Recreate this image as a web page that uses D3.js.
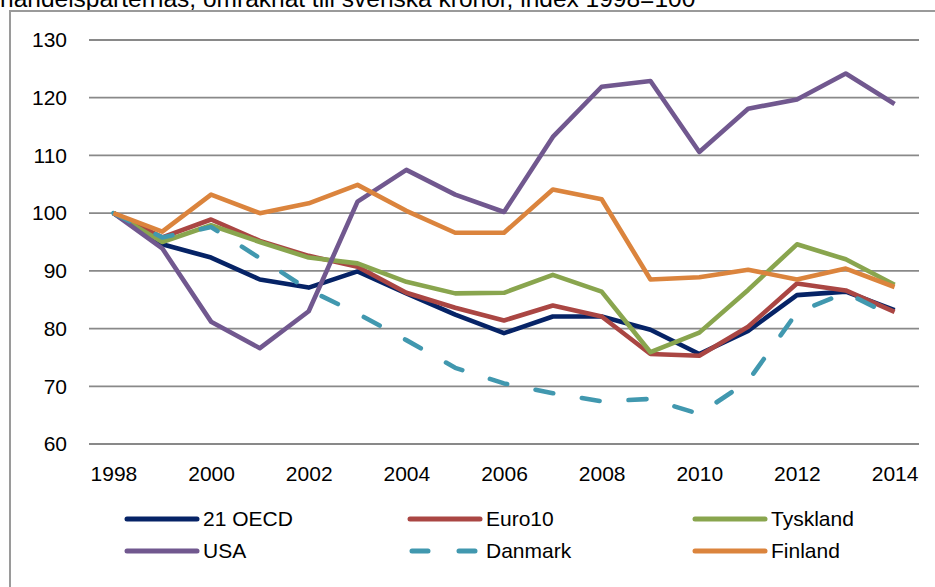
<!DOCTYPE html>
<html>
<head>
<meta charset="utf-8">
<script src="https://cdn.jsdelivr.net/npm/d3@7"></script>
<style>
  html, body { margin: 0; padding: 0; background: #fff; overflow: hidden; }
  svg { display: block; font-family: 'Liberation Sans', Arial, sans-serif; }
</style>
</head>
<body>
<div id="chart"></div>
<script>
// Index 1998=100
const years = d3.range(1998, 2015);
const yTicks = [60, 70, 80, 90, 100, 110, 120, 130];
const xTickYears = [1998, 2000, 2002, 2004, 2006, 2008, 2010, 2012, 2014];

const oecd21   = [100, 94.6, 92.3, 88.5, 87.1, 89.9, 86.1, 82.4, 79.2, 82.1, 82.1, 79.8, 75.6, 79.6, 85.8, 86.4, 83.2];
const euro10   = [100, 95.8, 98.9, 95.2, 92.6, 90.7, 86.2, 83.6, 81.4, 84.0, 82.1, 75.6, 75.3, 80.3, 87.8, 86.6, 82.9];
const tyskland = [100, 95.0, 97.9, 95.0, 92.3, 91.3, 88.1, 86.1, 86.2, 89.3, 86.4, 75.9, 79.3, 86.7, 94.6, 92.0, 87.6];
const usa      = [100, 93.9, 81.2, 76.6, 83.0, 102.0, 107.5, 103.2, 100.2, 113.2, 121.9, 122.9, 110.6, 118.1, 119.7, 124.2, 118.9];
const danmark  = [100, 95.8, 97.6, 92.2, 86.7, 82.6, 78.0, 73.2, 70.5, 68.8, 67.4, 67.8, 65.2, 70.9, 82.8, 86.2, 82.0];
const finland  = [100, 96.8, 103.2, 100.0, 101.7, 104.9, 100.4, 96.6, 96.6, 104.1, 102.4, 88.5, 88.9, 90.2, 88.5, 90.4, 87.2];

const series = [
  { name: '21 OECD',  values: oecd21,   color: '#062366' },
  { name: 'Euro10',   values: euro10,   color: '#AA4643' },
  { name: 'Tyskland', values: tyskland, color: '#89A54E' },
  { name: 'USA',      values: usa,      color: '#71588F' },
  { name: 'Danmark',  values: danmark,  color: '#4198AF', dash: '18,29' },
  { name: 'Finland',  values: finland,  color: '#DB843D' },
];

const W = 935, H = 587;
const svg = d3.select('#chart').append('svg')
  .attr('width', W).attr('height', H);

// partial title (cut off at the top in the original)
svg.append('text')
  .attr('x', 0).attr('y', 7)
  .attr('font-size', 24.5).attr('fill', '#000')
  .text('handelsparternas, omräknat till svenska kronor, index 1998=100');

// chart frame
svg.append('rect')
  .attr('x', 10).attr('y', 11)
  .attr('width', 1000).attr('height', 1000)
  .attr('fill', 'none').attr('stroke', '#9a9a9a').attr('stroke-width', 2);

const x = d3.scalePoint().domain(years).range([89, 919]).padding(0.5);
const y = d3.scaleLinear().domain([60, 130]).range([444, 40]);

// gridlines
svg.append('g').selectAll('line')
  .data(yTicks)
  .join('line')
  .attr('x1', 89).attr('x2', 919)
  .attr('y1', d => y(d)).attr('y2', d => y(d))
  .attr('stroke', '#898989').attr('stroke-width', 1.8);

// y axis labels
const yAxis = svg.append('g')
  .attr('transform', 'translate(67,0)')
  .call(d3.axisLeft(y).tickValues(yTicks).tickSize(0).tickPadding(0));
yAxis.select('.domain').remove();
yAxis.selectAll('text')
  .attr('font-size', 21).attr('fill', '#000')
  .attr('font-family', "'Liberation Sans', Arial, sans-serif");

// x axis labels
const xAxis = svg.append('g')
  .attr('transform', 'translate(0,444)')
  .call(d3.axisBottom(x).tickValues(xTickYears).tickSize(0).tickPadding(0));
xAxis.select('.domain').remove();
xAxis.selectAll('text')
  .attr('dy', null).attr('y', 37)
  .attr('font-size', 21).attr('fill', '#000')
  .attr('font-family', "'Liberation Sans', Arial, sans-serif");

// lines
const line = d3.line()
  .x((d, i) => x(years[i]))
  .y(d => y(d));

svg.append('g').selectAll('path')
  .data(series)
  .join('path')
  .attr('d', d => line(d.values))
  .attr('fill', 'none')
  .attr('stroke', d => d.color)
  .attr('stroke-width', 4.6)
  .attr('stroke-linejoin', 'round')
  .attr('stroke-linecap', d => d.dash ? 'round' : 'butt')
  .attr('stroke-dasharray', d => d.dash || null);

// legend, 3 columns x 2 rows
const legendCols = [127, 410, 695];
const legendRows = [519, 551];
const legend = svg.append('g').selectAll('g')
  .data(series)
  .join('g')
  .attr('transform', (d, i) => `translate(${legendCols[i % 3]},${legendRows[Math.floor(i / 3)]})`);

legend.append('line')
  .attr('x1', d => d.dash ? 2 : 0).attr('x2', 70)
  .attr('stroke', d => d.color)
  .attr('stroke-width', 5)
  .attr('stroke-linecap', 'round')
  .attr('stroke-dasharray', d => d.dash ? '16,31' : null);

legend.append('text')
  .attr('x', 76).attr('dy', '0.35em')
  .attr('font-size', 21).attr('fill', '#000')
  .text(d => d.name);
</script>
</body>
</html>
